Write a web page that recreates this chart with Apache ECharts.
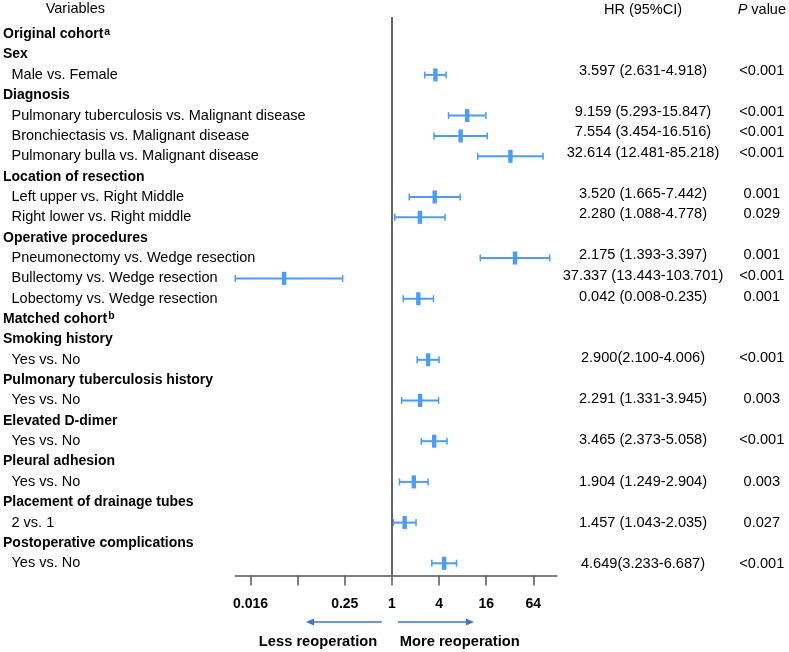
<!DOCTYPE html>
<html>
<head>
<meta charset="utf-8">
<script src="https://cdn.jsdelivr.net/npm/echarts@6/dist/echarts.min.js"></script>
<style>html,body{margin:0;padding:0;background:#fff}#c{width:789px;height:652px}</style>
</head>
<body>
<div id="c"></div>
<script>
// ---- Row labels (0 = header, 1 = item) ----
const rowLabels = [
  'Original cohort', 'Sex', 'Male vs. Female', 'Diagnosis',
  'Pulmonary tuberculosis vs. Malignant disease', 'Bronchiectasis vs. Malignant disease',
  'Pulmonary bulla vs. Malignant disease', 'Location of resection',
  'Left upper vs. Right Middle', 'Right lower vs. Right middle', 'Operative procedures',
  'Pneumonectomy vs. Wedge resection', 'Bullectomy vs. Wedge resection',
  'Lobectomy vs. Wedge resection', 'Matched cohort', 'Smoking history', 'Yes vs. No',
  'Pulmonary tuberculosis history', 'Yes vs. No', 'Elevated D-dimer', 'Yes vs. No',
  'Pleural adhesion', 'Yes vs. No', 'Placement of drainage tubes', '2 vs. 1',
  'Postoperative complications', 'Yes vs. No'
];
const rowLevels = [0,0,1,0,1,1,1,0,1,1,0,1,1,1,0,0,1,0,1,0,1,0,1,0,1,0,1];
const rowSup = ['a','','','','','','','','','','','','','','b','','','','','','','','','','','',''];

// ---- Plotted estimates (as drawn) ----
const plotRows = [2, 4, 5, 6, 8, 9, 11, 12, 13, 16, 18, 20, 22, 24, 26];
const plotHR   = [3.597, 9.159, 7.554, 32.614, 3.520, 2.280, 37.337, 0.042, 2.175, 2.900, 2.291, 3.465, 1.904, 1.457, 4.649];
const plotLow  = [2.631, 5.293, 3.454, 12.481, 1.665, 1.088, 13.443, 0.008, 1.393, 2.100, 1.331, 2.373, 1.249, 1.043, 3.233];
const plotHigh = [4.918, 15.847, 16.516, 85.218, 7.442, 4.778, 103.701, 0.235, 3.397, 4.006, 3.945, 5.058, 2.904, 2.035, 6.687];

// ---- Text columns (as printed) ----
const textRows = [2, 4, 5, 6, 8, 9, 11, 12, 13, 16, 18, 20, 22, 24, 26];
const hrText = [
  '3.597 (2.631-4.918)', '9.159 (5.293-15.847)', '7.554 (3.454-16.516)', '32.614 (12.481-85.218)',
  '3.520 (1.665-7.442)', '2.280 (1.088-4.778)', '2.175 (1.393-3.397)', '37.337 (13.443-103.701)',
  '0.042 (0.008-0.235)', '2.900(2.100-4.006)', '2.291 (1.331-3.945)', '3.465 (2.373-5.058)',
  '1.904 (1.249-2.904)', '1.457 (1.043-2.035)', '4.649(3.233-6.687)'
];
const pText = ['<0.001','<0.001','<0.001','<0.001','0.001','0.029','0.001','<0.001','0.001','<0.001','0.003','<0.001','0.003','0.027','<0.001'];
const colHeaders = ['HR (95%CI)', 'P value'];

// ---- Axis ticks ----
const tickValues = [1/64, 1/16, 1/4, 1, 4, 16, 64];
const tickLabels = ['0.016', '', '0.25', '1', '4', '16', '64'];
const labelValues = [1/64, 1/4, 1, 4, 16, 64];

const BLUE = '#4d9bf5';
const FONT = 'Liberation Sans, Arial, sans-serif';
const chart = echarts.init(document.getElementById('c'), null, {renderer: 'canvas'});

const barData = plotRows.map((r, i) => [plotHR[i], r, plotLow[i], plotHigh[i]]);
const hrData = textRows.map((r, i) => [0, r, hrText[i]]);
const pData = textRows.map((r, i) => [1, r, pText[i]]);

function tickLabel(v) {
  for (let i = 0; i < tickValues.length; i++) {
    if (Math.abs(Math.log(v) - Math.log(tickValues[i])) < 1e-6) return tickLabels[i];
  }
  return '';
}

const option = {
  animation: false,
  backgroundColor: '#fff',
  textStyle: {fontFamily: FONT},
  grid: [
    {left: 234.8, right: 232.1, top: 17, bottom: 76.5},
    {left: 643, right: 27, top: 17, bottom: 76.5}
  ],
  xAxis: [
    {
      type: 'log', logBase: 4, min: 0.01, max: 128, gridIndex: 0,
      axisLine: {show: true, onZero: false, lineStyle: {color: '#555', width: 1.5}},
      axisTick: {show: true, length: 10, customValues: tickValues, lineStyle: {color: '#555', width: 1.5}},
      axisLabel: {customValues: labelValues, formatter: tickLabel, fontWeight: 'bold', fontSize: 14, color: '#000', margin: 22},
      splitLine: {show: false}, minorTick: {show: false}
    },
    {
      type: 'category', gridIndex: 1, position: 'top', data: colHeaders, boundaryGap: false,
      axisLine: {show: false}, axisTick: {show: false}, splitLine: {show: false},
      axisLabel: {
        interval: 0, margin: 0, fontSize: 14.5, color: '#000',
        formatter: v => v === 'P value' ? '{i|P} value' : v,
        rich: {i: {fontStyle: 'italic', fontSize: 14.5, color: '#000'}}
      }
    }
  ],
  yAxis: [
    {
      type: 'value', inverse: true, min: -0.845, max: 26.6, gridIndex: 0,
      axisLine: {show: false}, axisTick: {show: false}, splitLine: {show: false},
      axisLabel: {
        customValues: rowLabels.map((_, i) => i),
        align: 'left', margin: 232.3,
        formatter: v => {
          const i = Math.round(v);
          const sup = rowSup[i] ? '{s|' + rowSup[i] + '}' : '';
          return rowLevels[i] === 0 ? '{h|' + rowLabels[i] + '}' + sup : '{n|' + rowLabels[i] + '}';
        },
        rich: {
          h: {fontWeight: 'bold', fontSize: 14, color: '#000', lineHeight: 16},
          n: {fontSize: 14.5, color: '#000', padding: [0, 0, 0, 8.5], lineHeight: 16},
          s: {fontWeight: 'bold', fontSize: 10.5, color: '#000', verticalAlign: 'top', padding: [0, 0, 0, 1]}
        }
      }
    },
    {
      type: 'value', inverse: true, min: -0.604, max: 26.573, gridIndex: 1, show: false
    }
  ],
  series: [
    {
      type: 'custom', xAxisIndex: 0, yAxisIndex: 0, data: barData,
      encode: {x: [0, 2, 3], y: 1},
      clip: false,
      renderItem: function (params, api) {
        const row = api.value(1);
        const c = api.coord([api.value(0), row]);
        const cs = params.coordSys;
        const xl = Math.max(api.coord([api.value(2), row])[0], cs.x);
        const xh = Math.min(api.coord([api.value(3), row])[0], cs.x + cs.width);
        const y = c[1];
        const ls = {stroke: BLUE, lineWidth: 2};
        return {
          type: 'group',
          children: [
            {type: 'line', shape: {x1: xl, y1: y, x2: xh, y2: y}, style: ls},
            {type: 'line', shape: {x1: xl, y1: y - 3.5, x2: xl, y2: y + 3.5}, style: {stroke: BLUE, lineWidth: 1.5}},
            {type: 'line', shape: {x1: xh, y1: y - 3.5, x2: xh, y2: y + 3.5}, style: {stroke: BLUE, lineWidth: 1.5}},
            {type: 'rect', shape: {x: c[0] - 2.2, y: y - 6.5, width: 4.4, height: 13}, style: {fill: BLUE}}
          ]
        };
      },
      markLine: {
        silent: true, symbol: 'none', label: {show: false},
        lineStyle: {color: '#666', width: 2, type: 'solid'},
        data: [{xAxis: 1}]
      }
    },
    {
      type: 'custom', xAxisIndex: 1, yAxisIndex: 1, data: hrData.concat(pData),
      encode: {x: 0, y: 1}, clip: false,
      renderItem: function (params, api) {
        const c = api.coord([api.value(0), api.value(1)]);
        const item = (params.dataIndex < hrData.length) ? hrData[params.dataIndex] : pData[params.dataIndex - hrData.length];
        return {
          type: 'text', x: c[0], y: c[1],
          style: {text: item[2], align: 'center', verticalAlign: 'middle', fontSize: 14.6, fill: '#000', fontFamily: FONT}
        };
      }
    }
  ],
  graphic: [
    {type: 'text', x: 45.7, y: 9, style: {text: 'Variables', fontSize: 14.5, fill: '#000', align: 'left', verticalAlign: 'middle', fontFamily: FONT}},
    {type: 'line', shape: {x1: 381.7, y1: 622, x2: 312, y2: 622}, style: {stroke: '#4472c4', lineWidth: 1.5}},
    {type: 'polygon', shape: {points: [[306, 622], [314, 618.5], [314, 625.5]]}, style: {fill: '#4472c4'}},
    {type: 'line', shape: {x1: 398, y1: 622, x2: 468, y2: 622}, style: {stroke: '#4472c4', lineWidth: 1.5}},
    {type: 'polygon', shape: {points: [[474, 622], [466, 618.5], [466, 625.5]]}, style: {fill: '#4472c4'}},
    {type: 'text', x: 318, y: 642, style: {text: 'Less reoperation', fontSize: 14.7, fontWeight: 'bold', fill: '#000', align: 'center', verticalAlign: 'middle', fontFamily: FONT}},
    {type: 'text', x: 459.7, y: 642, style: {text: 'More reoperation', fontSize: 14.7, fontWeight: 'bold', fill: '#000', align: 'center', verticalAlign: 'middle', fontFamily: FONT}}
  ]
};
chart.setOption(option);
</script>
</body>
</html>
